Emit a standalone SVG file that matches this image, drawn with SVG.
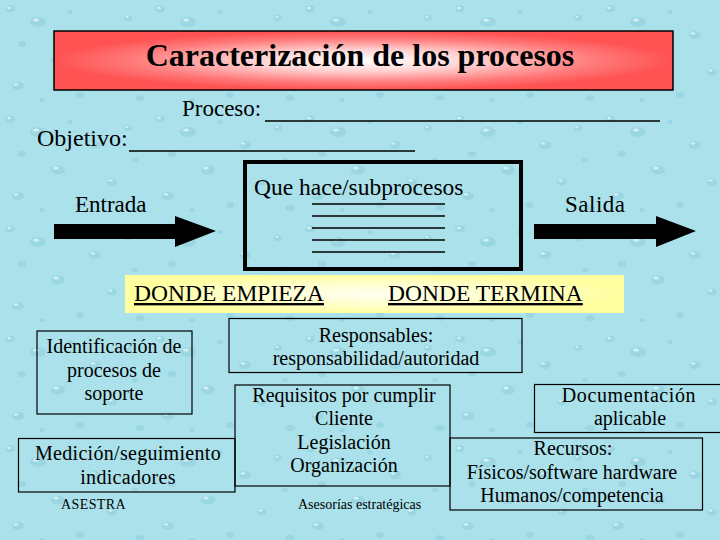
<svg xmlns="http://www.w3.org/2000/svg" width="720" height="540" viewBox="0 0 720 540">
<defs>
<radialGradient id="gTitle" cx="0.5" cy="0.5" r="0.5">
<stop offset="0" stop-color="#ffffff"/>
<stop offset="0.35" stop-color="#ffd4d4"/>
<stop offset="0.75" stop-color="#ff7a7a"/>
<stop offset="1" stop-color="#ff5252"/>
</radialGradient>
<radialGradient id="gYellow" cx="0.5" cy="0.5" r="0.5">
<stop offset="0" stop-color="#fffff0"/>
<stop offset="0.6" stop-color="#ffffc8"/>
<stop offset="1" stop-color="#ffffa0"/>
</radialGradient>
<pattern id="drops" width="150" height="110" patternUnits="userSpaceOnUse">
<rect width="150" height="110" fill="#aae1ea"/>
<g fill="#8ccfdc" opacity="0.55">
<ellipse cx="10" cy="9" rx="5" ry="3.5"/>
<ellipse cx="38" cy="22" rx="8" ry="5"/>
<ellipse cx="22" cy="44" rx="4" ry="3"/>
<ellipse cx="70" cy="12" rx="3" ry="2"/>
<ellipse cx="95" cy="35" rx="6" ry="4"/>
<ellipse cx="128" cy="18" rx="4" ry="3"/>
<ellipse cx="58" cy="60" rx="7" ry="4.5"/>
<ellipse cx="112" cy="72" rx="5" ry="3.5"/>
<ellipse cx="18" cy="86" rx="6" ry="4"/>
<ellipse cx="80" cy="95" rx="4" ry="3"/>
<ellipse cx="140" cy="98" rx="5" ry="3"/>
<ellipse cx="42" cy="100" rx="3" ry="2"/>
<ellipse cx="135" cy="50" rx="3" ry="2.2"/>
</g>
<g fill="#e8f9fc" opacity="0.7">
<ellipse cx="9" cy="8" rx="2" ry="1.2"/>
<ellipse cx="36" cy="20" rx="3" ry="1.6"/>
<ellipse cx="93" cy="33.5" rx="2.4" ry="1.3"/>
<ellipse cx="56" cy="58" rx="2.8" ry="1.5"/>
<ellipse cx="110.5" cy="70.5" rx="2" ry="1.2"/>
<ellipse cx="16" cy="84.5" rx="2.4" ry="1.3"/>
<ellipse cx="127" cy="17" rx="1.6" ry="1"/>
</g>
</pattern>
<style>
.t{font-family:"Liberation Serif","Times New Roman",serif;fill:#000}
.box{fill:none;stroke:#000;stroke-width:1.2}
.body{font-size:20px;text-anchor:middle}
.sm{font-size:14px}
.ul{stroke:#000;stroke-width:1.3}
</style>
</defs>
<rect width="720" height="540" fill="url(#drops)"/>

<g id="title">
<rect x="54" y="31" width="619" height="59" fill="url(#gTitle)" stroke="#000" stroke-width="1.5"/>
<text class="t" x="360" y="66" font-size="32" font-weight="bold" text-anchor="middle">Caracterización de los procesos</text>
</g>

<g id="proceso">
<text class="t" x="182" y="116" font-size="23">Proceso:</text>
<line class="ul" x1="265" y1="121" x2="660" y2="121"/>
</g>
<g id="objetivo">
<text class="t" x="37" y="146" font-size="24">Objetivo:</text>
<line class="ul" x1="129" y1="151" x2="415" y2="151"/>
</g>

<g id="entrada">
<text class="t" x="75" y="212" font-size="23">Entrada</text>
</g>
<g id="salida">
<text class="t" x="565" y="212" font-size="23" letter-spacing="0.5">Salida</text>
</g>

<g id="subprocesos">
<rect x="245" y="162" width="276" height="107" fill="none" stroke="#000" stroke-width="4"/>
<text class="t" x="254" y="195" font-size="23.5">Que hace/subprocesos</text>
<line class="ul" x1="312" y1="204" x2="445" y2="204"/>
<line class="ul" x1="312" y1="216" x2="445" y2="216"/>
<line class="ul" x1="312" y1="228" x2="445" y2="228"/>
<line class="ul" x1="312" y1="240" x2="445" y2="240"/>
<line class="ul" x1="312" y1="252" x2="445" y2="252"/>
</g>

<g id="donde">
<rect x="125" y="275" width="499" height="38" fill="url(#gYellow)"/>
<text class="t" x="134" y="301" font-size="23.5" text-decoration="underline">DONDE EMPIEZA</text>
<text class="t" x="388" y="301" font-size="23.5" text-decoration="underline">DONDE TERMINA</text>
</g>

<g id="responsables">
<rect class="box" x="229" y="318.5" width="293" height="54"/>
<text class="t body" x="376" y="342">Responsables:</text>
<text class="t body" x="376" y="365">responsabilidad/autoridad</text>
</g>

<g id="identificacion">
<rect class="box" x="37" y="331" width="155" height="83"/>
<text class="t body" x="114" y="353">Identificación de</text>
<text class="t body" x="114" y="377">procesos de</text>
<text class="t body" x="114" y="400">soporte</text>
</g>

<g id="requisitos">
<rect class="box" x="235" y="385" width="215" height="101"/>
<text class="t body" x="344" y="401.5">Requisitos por cumplir</text>
<text class="t body" x="344" y="425">Cliente</text>
<text class="t body" x="344" y="448.5">Legislación</text>
<text class="t body" x="344" y="472">Organización</text>
</g>

<g id="medicion">
<rect class="box" x="18.5" y="438.5" width="216.5" height="53.5"/>
<text class="t body" x="128" y="460" letter-spacing="0.3">Medición/seguimiento</text>
<text class="t body" x="128" y="483.5" letter-spacing="0.3">indicadores</text>
</g>

<g id="documentacion">
<rect class="box" x="534.5" y="384.5" width="190" height="48"/>
<text class="t body" x="629" y="401.5" letter-spacing="0.6">Documentación</text>
<text class="t body" x="630" y="425">aplicable</text>
</g>

<g id="recursos">
<rect class="box" x="450" y="438" width="252.5" height="72"/>
<text class="t body" x="573" y="455">Recursos:</text>
<text class="t body" x="572" y="478.5">Físicos/software hardware</text>
<text class="t body" x="572" y="502">Humanos/competencia</text>
</g>

<g id="footer">
<text class="t sm" x="61" y="508.5" letter-spacing="0.4">ASESTRA</text>
<text class="t sm" x="298" y="508.5">Asesorías estratégicas</text>
</g>

<g id="connectors">
<polygon points="54,224 175,224 175,216 216,231 175,247 175,239 54,239" fill="#000"/>
<polygon points="534,224 656,224 656,216 696,231 656,247 656,239 534,239" fill="#000"/>
</g>
</svg>
